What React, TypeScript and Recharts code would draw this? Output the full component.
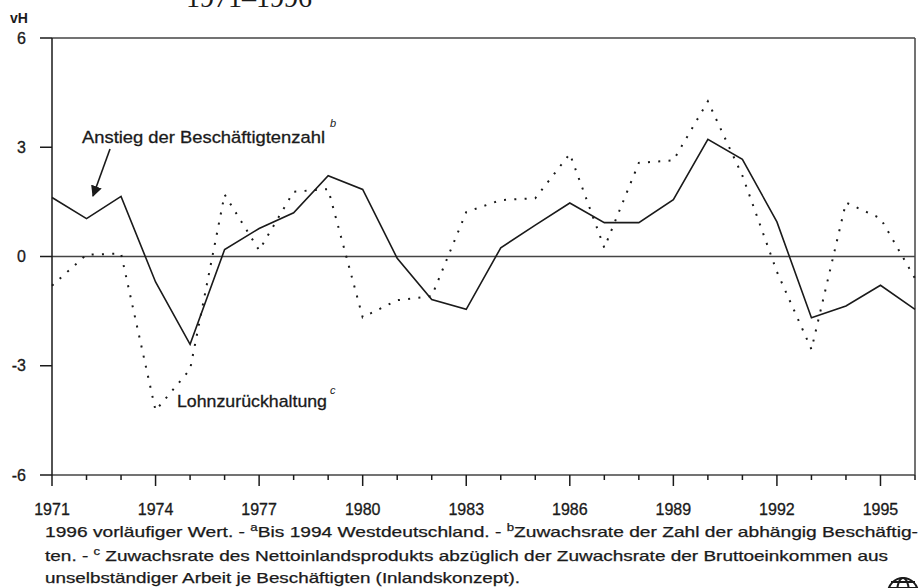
import React from 'react';
import { LineChart, Line, XAxis, YAxis, ReferenceLine } from 'recharts';

const years = [1971, 1972, 1973, 1974, 1975, 1976, 1977, 1978, 1979, 1980, 1981, 1982, 1983, 1984, 1985, 1986, 1987, 1988, 1989, 1990, 1991, 1992, 1993, 1994, 1995, 1996];
const employment = [1.62, 1.04, 1.65, -0.7, -2.41, 0.19, 0.77, 1.2, 2.22, 1.84, -0.05, -1.18, -1.45, 0.24, 0.86, 1.47, 0.93, 0.93, 1.56, 3.22, 2.67, 0.95, -1.68, -1.36, -0.79, -1.45];
const wageRestraint = [-0.8, 0.05, 0.08, -4.23, -3.1, 1.7, 0.17, 1.78, 1.85, -1.67, -1.2, -1.09, 1.22, 1.55, 1.6, 2.82, 0.24, 2.57, 2.64, 4.26, 2.22, -0.42, -2.55, 1.48, 1.05, -0.6];
const yTicks = [-6, -3, 0, 3, 6];
const labelYears = [1971, 1974, 1977, 1980, 1983, 1986, 1989, 1992, 1995];

const data = years.map((year, i) => ({ year, employment: employment[i], wage: wageRestraint[i] }));

const ink = '#1a1a1a';
const frame = '#444';
const sans = 'Liberation Sans, Arial, sans-serif';

function YearTick(props: any) {
  const { x, y, payload } = props;
  const major = labelYears.includes(payload.value);
  return (
    <g>
      <line x1={x} x2={x} y1={y} y2={y + (major ? 11 : 5)} stroke={ink} strokeWidth={1.5} />
      {major && (
        <text x={x} y={y + 40} textAnchor="middle" fontFamily={sans} fontSize={16} fill={ink} stroke={ink} strokeWidth={0.3}>
          {payload.value}
        </text>
      )}
    </g>
  );
}

export default function App() {
  return (
    <div style={{ position: 'absolute', left: 0, top: 0, width: 923, height: 588, background: '#fff', overflow: 'hidden' }}>
      <LineChart width={923} height={588} data={data} margin={{ top: 38, right: 8, left: 12, bottom: 83 }}>
        <XAxis
          dataKey="year"
          type="number"
          domain={[1971, 1996]}
          ticks={years}
          interval={0}
          height={30}
          tickSize={0}
          tickMargin={0}
          tickLine={false}
          axisLine={{ stroke: frame, strokeWidth: 1.5 }}
          tick={(p: any) => <YearTick {...p} />}
        />
        <YAxis
          type="number"
          domain={[-6, 6]}
          ticks={yTicks}
          interval={0}
          width={40}
          tickSize={12}
          tickMargin={14}
          axisLine={{ stroke: ink, strokeWidth: 1.5 }}
          tickLine={{ stroke: ink, strokeWidth: 1.5 }}
          tick={{ fontFamily: sans, fontSize: 16, fill: ink, stroke: ink, strokeWidth: 0.3 }}
        />
        <ReferenceLine y={6} stroke={frame} strokeWidth={1.5} />
        <ReferenceLine x={1996} stroke={frame} strokeWidth={1.5} />
        <ReferenceLine y={0} stroke={frame} strokeWidth={1.3} />
        <Line
          type="linear"
          dataKey="wage"
          stroke={ink}
          strokeWidth={2}
          strokeDasharray="2 8.3"
          dot={false}
          activeDot={false}
          isAnimationActive={false}
        />
        <Line
          type="linear"
          dataKey="employment"
          stroke={ink}
          strokeWidth={1.6}
          dot={false}
          activeDot={false}
          isAnimationActive={false}
        />
      </LineChart>
      <svg width={923} height={588} style={{ position: 'absolute', left: 0, top: 0, pointerEvents: 'none' }}>
        <defs>
          <marker id="head" viewBox="0 0 10 10" refX="9" refY="5" markerWidth="7" markerHeight="7" orient="auto">
            <path d="M0,0 L10,5 L0,10 z" fill={ink} />
          </marker>
        </defs>
        <text x={186} y={7} fontFamily="Liberation Serif, Times New Roman, serif" fontSize={28} fill={ink}>1971–1996</text>
        <text x={10} y={23} fontFamily={sans} fontSize={14} fontWeight="bold" fill={ink}>vH</text>

        <text x={82} y={143} fontFamily={sans} fontSize={17} fill={ink} stroke={ink} strokeWidth={0.3} textLength={243} lengthAdjust="spacingAndGlyphs">
          Anstieg der Beschäftigtenzahl
        </text>
        <text x={330} y={127} fontFamily={sans} fontSize={11} fontStyle="italic" fill={ink}>b</text>
        <line x1={110} y1={149} x2={93} y2={196} stroke={ink} strokeWidth={1.6} markerEnd="url(#head)" />

        <text x={177} y={407} fontFamily={sans} fontSize={17} fill={ink} stroke={ink} strokeWidth={0.3} textLength={150} lengthAdjust="spacingAndGlyphs">
          Lohnzurückhaltung
        </text>
        <text x={330} y={394} fontFamily={sans} fontSize={11} fontStyle="italic" fill={ink}>c</text>

        <g fontFamily={sans} fontSize={14.5} fill={ink} stroke={ink} strokeWidth={0.25}>
          <text x={45} y={537} textLength={873} lengthAdjust="spacingAndGlyphs">
            1996 vorläufiger Wert. - <tspan fontSize={10} dy={-6}>a</tspan><tspan dy={6}>Bis 1994 Westdeutschland. - </tspan><tspan fontSize={10} dy={-6}>b</tspan><tspan dy={6}>Zuwachsrate der Zahl der abhängig Beschäftig-</tspan>
          </text>
          <text x={45} y={561} textLength={843} lengthAdjust="spacingAndGlyphs">
            ten. - <tspan fontSize={10} dy={-6}>c</tspan><tspan dy={6}> Zuwachsrate des Nettoinlandsprodukts abzüglich der Zuwachsrate der Bruttoeinkommen aus</tspan>
          </text>
          <text x={45} y={583} textLength={475} lengthAdjust="spacingAndGlyphs">
            unselbständiger Arbeit je Beschäftigten (Inlandskonzept).
          </text>
        </g>

        <g stroke={ink} strokeWidth={2} fill="none">
          <circle cx={903} cy={593} r={15} />
          <ellipse cx={903} cy={593} rx={6} ry={15} />
          <line x1={888} y1={588} x2={918} y2={588} />
          <line x1={891} y1={582} x2={915} y2={582} />
        </g>
      </svg>
    </div>
  );
}
